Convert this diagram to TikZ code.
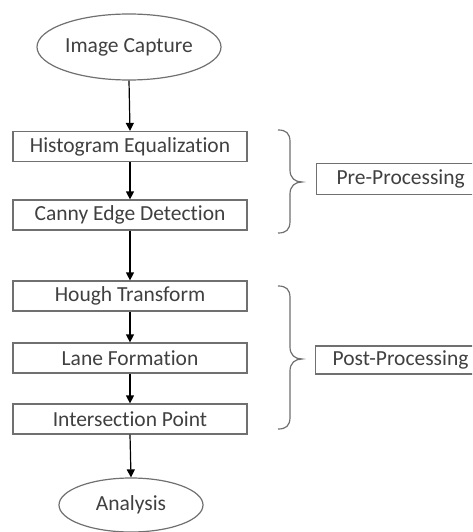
\documentclass[tikz,border=0pt]{standalone}
\usepackage{fontspec}
\setmainfont[Ligatures=NoCommon]{Carlito}
\usetikzlibrary{arrows.meta,shapes.geometric}
\definecolor{boxgray}{HTML}{707070}
\definecolor{txtgray}{HTML}{404040}
\begin{document}
\begin{tikzpicture}[x=1pt,y=-1pt,
  every node/.style={font=\fontsize{21.5}{24}\selectfont, text=txtgray, inner sep=0pt},
  stepbox/.style={draw=boxgray, line width=1.2pt, minimum width=234pt, minimum height=30pt},
  sidebox/.style={draw=boxgray, line width=1.2pt, minimum height=31pt},
  term/.style={ellipse, draw=boxgray, line width=1.2pt},
  flow/.style={line width=1.2pt, -{Triangle[width=8pt,length=8pt]}},
  bracestyle/.style={draw=boxgray, line width=1.2pt}]
\useasboundingbox (0,0) rectangle (472,532);
\clip (0,0) rectangle (472,532);
\fill[white] (0,0) rectangle (472,532);

\node[term, minimum width=184pt, minimum height=66pt] (cap) at (129,47) {Image Capture};
\node[stepbox] (hist) at (130,146.5) {Histogram Equalization};
\node[stepbox] (canny) at (130,215) {Canny Edge Detection};
\node[stepbox] (hough) at (130,296) {Hough Transform};
\node[stepbox] (lane) at (130,358) {Lane Formation};
\node[stepbox] (inter) at (130,419) {Intersection Point};
\node[term, minimum width=144pt, minimum height=54pt] (ana) at (131,505) {Analysis};

\node[sidebox, anchor=west, minimum width=180pt, text width=170pt, align=left] (pre) at (316,179) {\hspace*{15pt}Pre-Processing};
\node[sidebox, anchor=west, minimum width=180pt, text width=170pt, align=left, minimum height=28pt] (post) at (315,360) {\hspace*{12pt}Post-Processing};

\draw[flow] (cap.south) -- (hist.north);
\draw[flow] (hist.south) -- (canny.north);
\draw[flow] (canny.south) -- (hough.north);
\draw[flow] (hough.south) -- (lane.north);
\draw[flow] (lane.south) -- (inter.north);
\draw[flow] (inter.south) -- (ana.north);

% braces
\draw[bracestyle] (278,130) .. controls (286,130) and (290,133) .. (290,142) -- (290,170)
  .. controls (290,178) and (295,182) .. (302,182)
  .. controls (295,182) and (290,186) .. (290,194) -- (290,221)
  .. controls (290,230) and (286,233) .. (278,233);
\draw[bracestyle] (278,286) .. controls (286,286) and (290,289) .. (290,298) -- (290,347)
  .. controls (290,355) and (295,359) .. (302,359)
  .. controls (295,359) and (290,363) .. (290,371) -- (290,417)
  .. controls (290,426) and (286,429) .. (278,429);
\end{tikzpicture}
\end{document}
